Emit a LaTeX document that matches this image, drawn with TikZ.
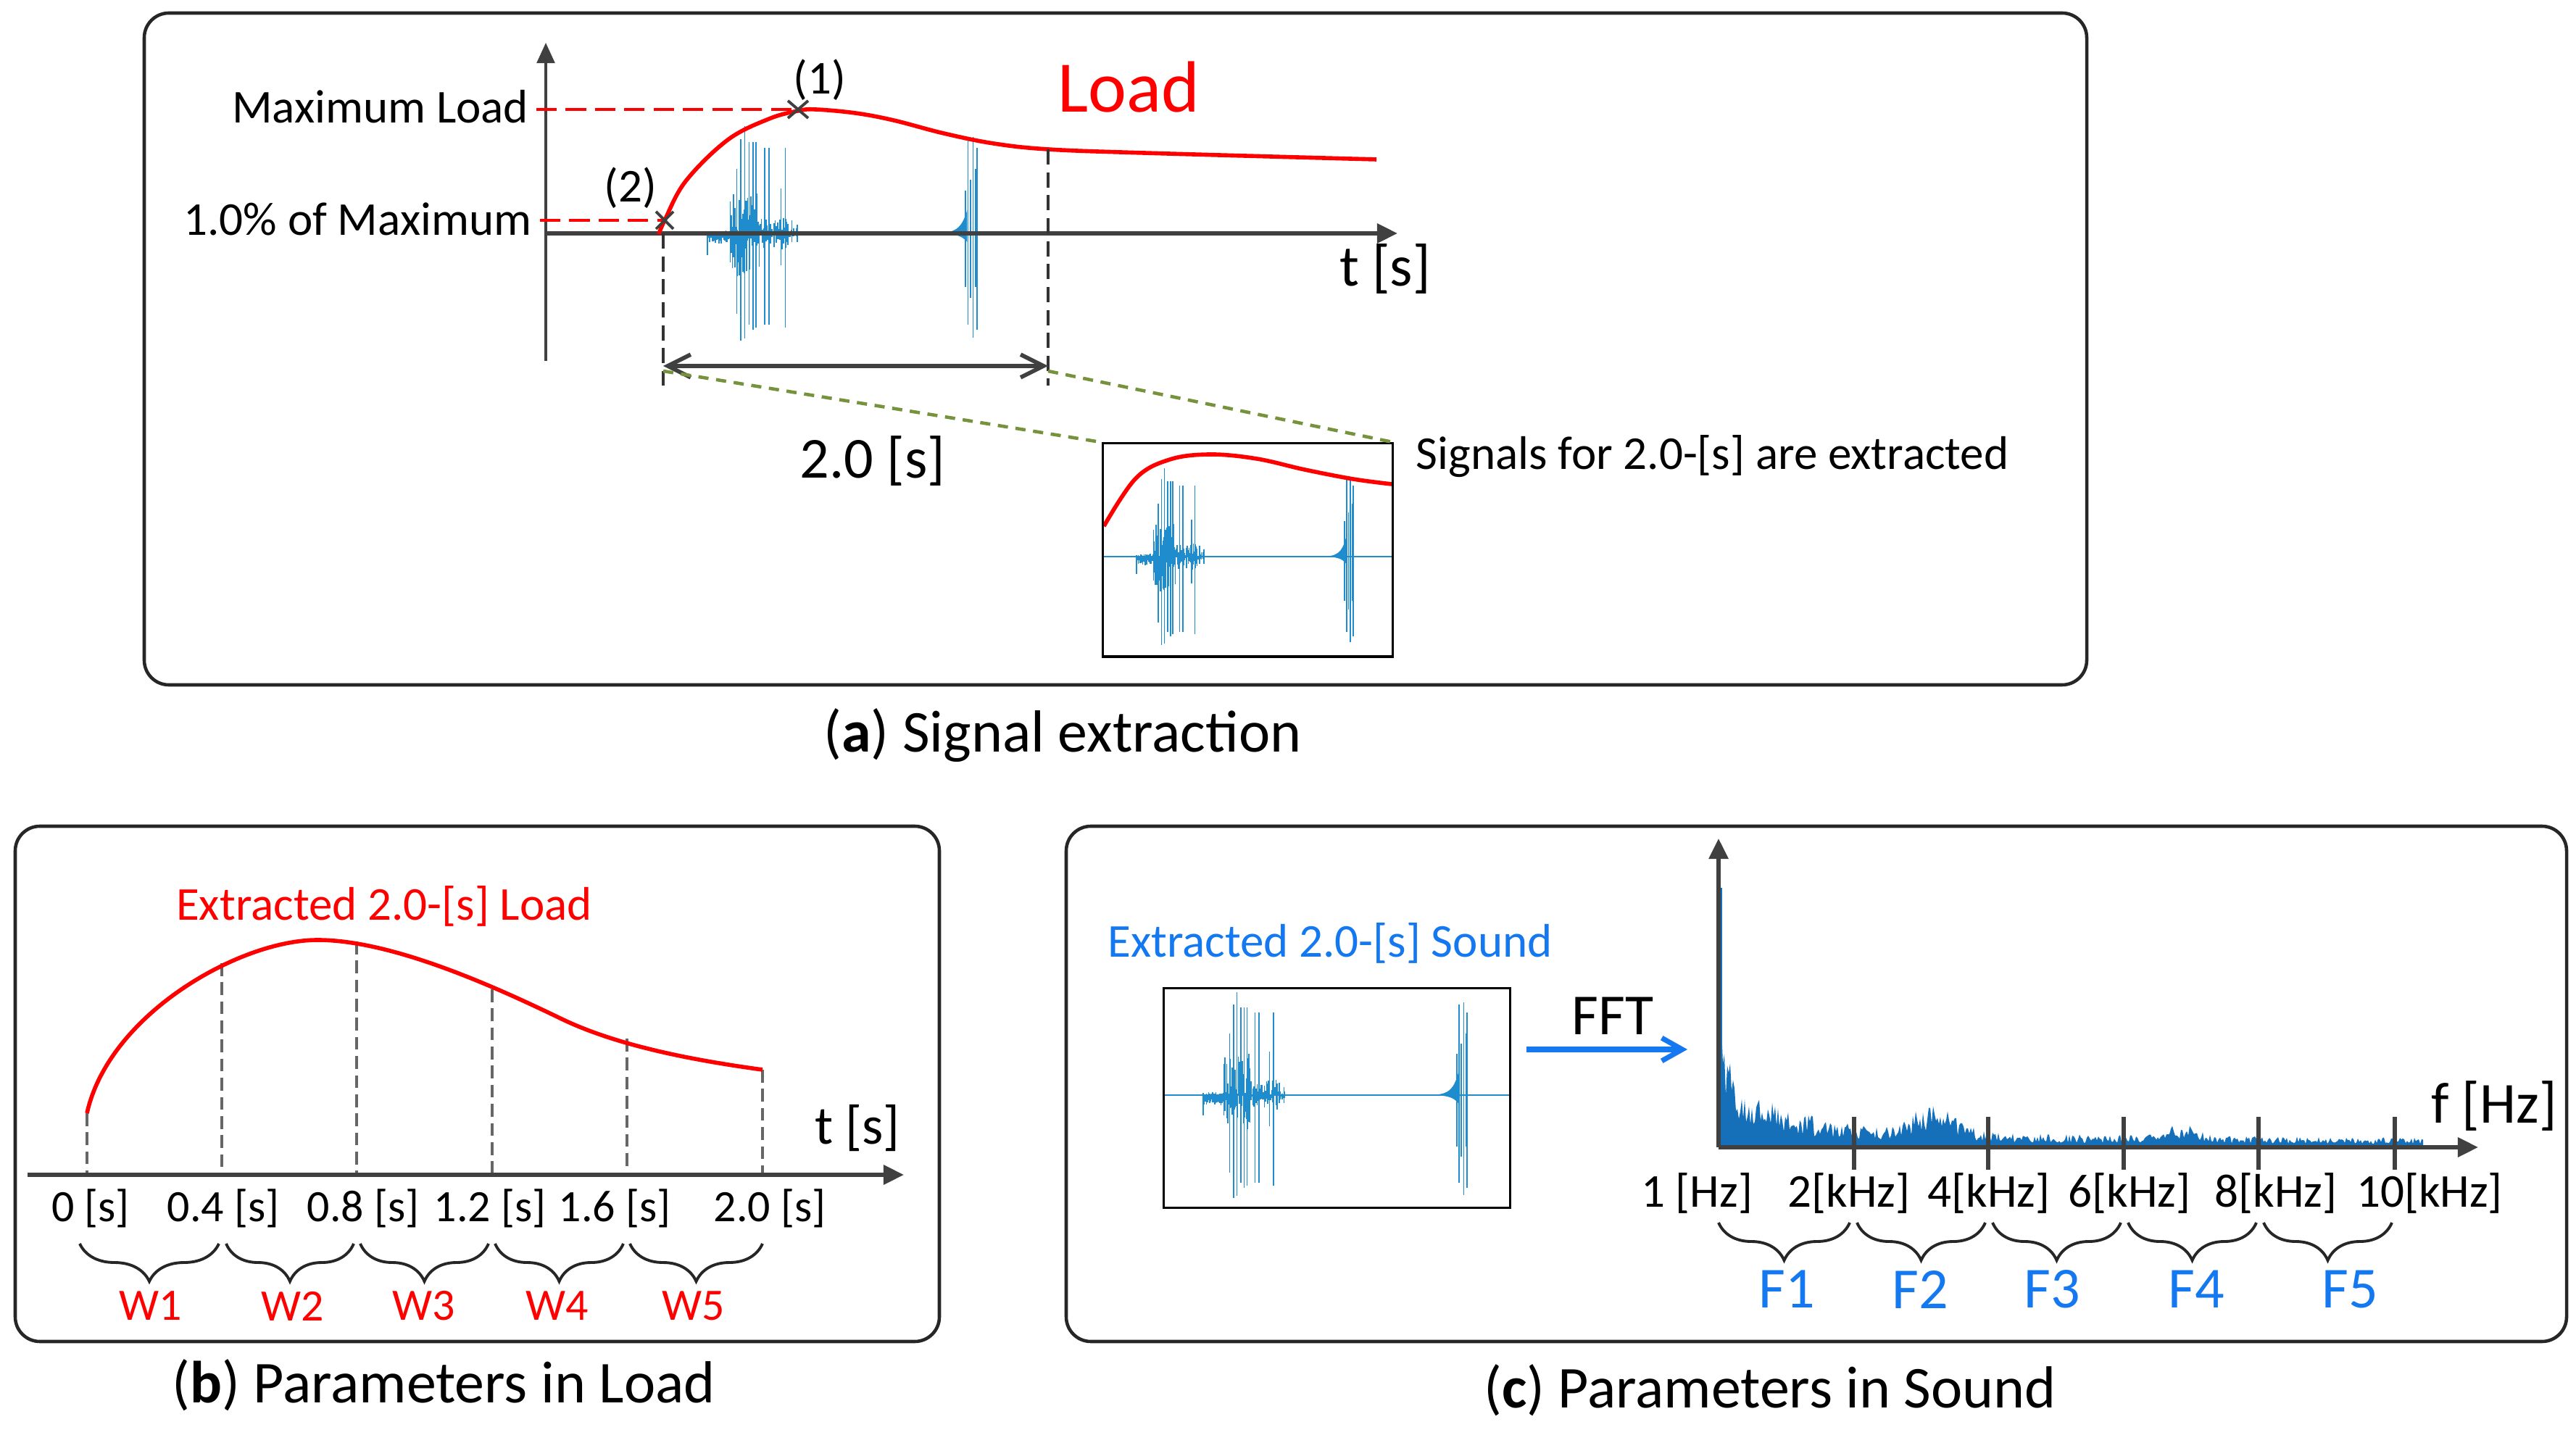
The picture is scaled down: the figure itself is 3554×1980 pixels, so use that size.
\documentclass[tikz,border=0pt]{standalone}
\usepackage{fontspec}
\setmainfont{Carlito}
\usetikzlibrary{arrows.meta,decorations.pathreplacing}
\definecolor{axisgray}{RGB}{64,64,64}
\definecolor{sigblue}{RGB}{30,140,205}
\definecolor{specblue}{RGB}{22,112,185}
\definecolor{txtblue}{RGB}{20,120,240}
\definecolor{olivegreen}{RGB}{118,146,60}
% #1 = seed, #2 = shift of the second event
\newcommand{\sigwave}[2]{%
  \pgfmathsetseed{#1}%
  % low noise before the burst
  \foreach \k in {0,...,20}{%
    \pgfmathsetmacro\sT{0.115+0.003*\k}%
    \pgfmathsetmacro\sU{0.03*rnd}%
    \pgfmathsetmacro\sD{0.04+0.06*rnd}%
    \draw[sigline] (\sT,\sU) -- (\sT,-\sD);
  }
  % burst noise
  \foreach \k in {0,...,58}{%
    \pgfmathsetmacro\sT{0.174+0.003*\k}%
    \pgfmathsetmacro\sE{(\sT<0.25)*0.4+(\sT>=0.25)*(\sT<0.33)*0.15+(\sT>=0.33)*0.05}%
    \pgfmathsetmacro\sU{\sE*rnd}%
    \pgfmathsetmacro\sD{\sE*rnd}%
    \draw[sigline] (\sT,\sU) -- (\sT,-\sD);
  }
  % large spikes of the first event
  \foreach \sT/\sU/\sD in {0.115/0.02/0.2, 0.174/0.3/0.2, 0.191/0.6/0.75, 0.202/0.88/1.0,
      0.212/1.0/0.98, 0.223/0.85/0.85, 0.233/0.85/0.9, 0.241/0.85/0.88,
      0.264/0.8/0.85, 0.275/0.8/0.85, 0.306/0.42/0.3, 0.317/0.8/0.88,
      0.334/0.12/0.08, 0.348/0.08/0.08}{%
    \draw[sigline] (\sT,\sU) -- (\sT,-\sD);
  }
  % second event
  \foreach \sTT/\sU/\sD in {0.845/0.4/0.5, 0.852/0.88/0.85, 0.858/0.5/0.6, 0.865/0.9/0.97, 0.872/0.6/0.5, 0.875/0.8/0.9}{%
    \pgfmathsetmacro\sT{\sTT+#2}%
    \draw[sigline] (\sT,\sU) -- (\sT,-\sD);
  }
  % rise before second event
  \fill[sigblue] (0.76+#2,0) .. controls (0.82+#2,0) and (0.835+#2,0.04) .. (0.85+#2,0.22)
     -- (0.85+#2,-0.08) .. controls (0.835+#2,-0.02) and (0.82+#2,0) .. (0.76+#2,0) -- cycle;
}
\begin{document}
\begin{tikzpicture}[x=0.01cm,y=-0.01cm,
  panel/.style={draw=black!85, line width=1.3pt, rounded corners=0.34cm},
  t65/.style={font=\fontsize{18.5}{22}\selectfont, inner sep=0pt},
  t62/.style={font=\fontsize{17.6}{21}\selectfont, inner sep=0pt},
  t80/.style={font=\fontsize{22.8}{27}\selectfont, inner sep=0pt},
  t75/.style={font=\fontsize{21.3}{25}\selectfont, inner sep=0pt},
  capt/.style={font=\fontsize{23.3}{28}\selectfont, inner sep=0pt},
  axisline/.style={draw=axisgray, line width=1.6pt, -{Triangle[length=8pt,width=7.5pt]}},
  yaxisline/.style={draw=axisgray, line width=1.1pt, -{Triangle[length=8pt,width=7pt]}},
  sigline/.style={sigblue, line width=0.45pt},
  redcurve/.style={red, line width=1.6pt},
  reddash/.style={red, line width=1.4pt, dash pattern=on 8pt off 3.5pt},
  vdash/.style={black!80, line width=0.9pt, dash pattern=on 6pt off 3pt},
  gdash/.style={black!60, line width=0.9pt, dash pattern=on 5pt off 2.5pt},
  olivedash/.style={olivegreen, line width=1.3pt, dash pattern=on 4pt off 3pt},
  dblarrow/.style={axisgray, line width=1.6pt, {Straight Barb[length=9pt,width=9pt]}-{Straight Barb[length=9pt,width=9pt]}},
  fftarrow/.style={txtblue, line width=2pt, -{Straight Barb[length=8pt,width=9pt]}},
  bracedown/.style={decorate, decoration={brace, mirror, amplitude=0.52cm}, line width=1.1pt, black!85},
  cross/.style={axisgray, line width=1.1pt},
  inset/.style={draw=black, line width=0.9pt, inner sep=0pt}
]
\useasboundingbox (0,0) rectangle (3554,1980);
\fill[white] (0,0) rectangle (3554,1980);

% ================= Panel (a) =================
\draw[panel] (199,18) rectangle (2879,945);

% signal in main plot
\begin{scope}[shift={(915,322)}, xscale=531, yscale=-148]
  \sigwave{5}{-0.06}
\end{scope}

% axes
\coordinate (aO) at (753,322);
\coordinate (aYtop) at (753,59);
\coordinate (aYbot) at (753,498);
\coordinate (aXend) at (1928,322);
\draw[yaxisline] (aYbot) -- (aYtop);
\draw[axisline] (aO) -- (aXend);

% load curve
\draw[redcurve] plot[smooth, tension=0.6] coordinates {(909,323) (917,304) (946,250) (1004,193) (1061,164) (1101,153) (1125,151) (1180,156) (1233,166) (1302,184) (1371,198) (1446,206) (1578,211) (1899,220)};

% labels on the y axis
\node[t65, anchor=base east] (lmax) at (730,170) {Maximum Load};
\node[t65, anchor=base east] (lpct) at (734,325) {1.0\% of Maximum};
\coordinate (m1) at (1101,151);
\coordinate (m2) at (917,304);
\draw[reddash] (740,151) -- (m1);
\draw[reddash] (745,304) -- (m2);
\draw[cross] ([shift={(-14,-12)}]m1) -- ([shift={(14,12)}]m1) ([shift={(-14,12)}]m1) -- ([shift={(14,-12)}]m1);
\draw[cross] ([shift={(-12,-12)}]m2) -- ([shift={(12,12)}]m2) ([shift={(-12,12)}]m2) -- ([shift={(12,-12)}]m2);
\node[t65] (p1) at (1131,110) {(1)};
\node[t65] (p2) at (870,259) {(2)};
\node[font=\fontsize{28.5}{34}\selectfont, text=red, inner sep=0pt, anchor=base] (loadlbl) at (1557,155) {Load};
\node[t80] (ts) at (1911,371) {t [s]};

% window markers
\coordinate (wL) at (915,505);
\coordinate (wR) at (1446,505);
\draw[vdash] (915,322) -- (915,532);
\draw[vdash] (1446,206) -- (1446,532);
\draw[dblarrow] (wL) -- (wR);
\node[t80] (dur) at (1204,636) {2.0 [s]};

% inset
\node[inset, minimum width=3.99cm, minimum height=2.94cm] (insA) at (1721.5,759) {};
\begin{scope}[shift={(1522,768)}, xscale=399, yscale=-122]
  \draw[sigline] (0,0) -- (1,0);
  \sigwave{5}{-0.01}
\end{scope}
\draw[redcurve] plot[smooth, tension=0.6] coordinates {(1523,726) (1567,660) (1614,634) (1670,627) (1734,633) (1800,648) (1867,661) (1920,668)};
\node[inset, minimum width=3.99cm, minimum height=2.94cm] at (1721.5,759) {};
\coordinate (gL) at (915,512);
\coordinate (gR) at (1446,512);
\draw[olivedash] (gL) -- (insA.north west);
\draw[olivedash] (gR) -- (insA.north east);
\node[t65, anchor=base west] (sigtxt) at (1953,648) {Signals for 2.0-[s] are extracted};

\node[capt] (capa) at (1466,1015) {(\textbf{a}) Signal extraction};

% ================= Panel (b) =================
\draw[panel] (21,1140) rectangle (1296,1851);
\coordinate (bO) at (38,1621);
\coordinate (bXend) at (1247,1621);
\draw[gdash] (120,1536) -- (120,1621);
\draw[gdash] (306,1329) -- (306,1621);
\draw[gdash] (492,1299) -- (492,1621);
\draw[gdash] (679,1365) -- (679,1621);
\draw[gdash] (865,1433) -- (865,1621);
\draw[gdash] (1052,1476) -- (1052,1621);
\draw[axisline] (bO) -- (bXend);
\draw[redcurve] (120,1536) .. controls (150,1400) and (330,1297) .. (438,1297)
   .. controls (540,1297) and (680,1360) .. (775,1406)
   .. controls (850,1442) and (950,1462) .. (1052,1476);
\node[t65, text=red] (extl) at (530,1250) {Extracted 2.0-[s] Load};
\node[t75] (tsb) at (1183,1557) {t [s]};
\node[t62] (b0) at (125,1667) {0 [s]};
\node[t62] (b1) at (308,1667) {0.4 [s]};
\node[t62] (b2) at (501,1667) {0.8 [s]};
\node[t62] (b3) at (676,1667) {1.2 [s]};
\node[t62] (b4) at (848,1667) {1.6 [s]};
\node[t62] (b5) at (1062,1667) {2.0 [s]};
\draw[bracedown] (110,1716) -- (302,1716);
\draw[bracedown] (312,1716) -- (488,1716);
\draw[bracedown] (497,1716) -- (674,1716);
\draw[bracedown] (683,1716) -- (860,1716);
\draw[bracedown] (869,1716) -- (1052,1716);
\node[t62, text=red] (w1) at (208,1802) {W1};
\node[t62, text=red] (w2) at (404,1802) {W2};
\node[t62, text=red] (w3) at (585,1802) {W3};
\node[t62, text=red] (w4) at (769,1802) {W4};
\node[t62, text=red] (w5) at (957,1802) {W5};
\node[capt] (capb) at (612,1911) {(\textbf{b}) Parameters in Load};

% ================= Panel (c) =================
\draw[panel] (1471,1140) rectangle (3541,1851);
\node[t65, text=txtblue] (exts) at (1835,1301) {Extracted 2.0-[s] Sound};
\node[inset, minimum width=4.78cm, minimum height=3.02cm] (insC) at (1844.5,1515) {};
\begin{scope}[shift={(1605,1511)}, xscale=479, yscale=-142]
  \draw[sigline] (0,0) -- (1,0);
  \sigwave{9}{0}
\end{scope}
\node[inset, minimum width=4.78cm, minimum height=3.02cm] at (1844.5,1515) {};
\node[t80] (fft) at (2225,1402) {FFT};
\coordinate (fS) at (2106,1448);
\coordinate (fE) at (2328,1448);
\draw[fftarrow] (fS) -- (fE);

% spectrum
\pgfmathsetseed{11}
\fill[specblue] (2371,1583) -- plot[domain=0:972, samples=487, variable=\u] ({2371+\u},{1583-(22-9*\u/972+200*exp(-\u/6)+105*exp(-\u/85)+45*exp(-((\u-298)/40)*((\u-298)/40))+18*exp(-((\u-639)/28)*((\u-639)/28)))*(0.35+0.65*rnd)}) -- (3343,1583) -- cycle;
\draw[specblue, line width=1pt] (2374,1583) -- (2374,1225);

\coordinate (cO) at (2371,1583);
\coordinate (cYtop) at (2371,1157);
\coordinate (cXend) at (3419,1583);
\draw[axisline, line width=1.5pt] (cO) -- (cYtop);
\draw[axisline, line width=1.5pt] (cO) -- (cXend);
\foreach \xx in {2558,2743,2930,3116,3304}{
  \draw[axisgray, line width=1.5pt] (\xx,1541) -- (\xx,1614);
}
\node[t80] (fhz) at (3441,1526) {f [Hz]};
\node[t65] (c0) at (2341,1646) {1 [Hz]};
\node[t65] (c1) at (2551,1646) {2[kHz]};
\node[t65] (c2) at (2744,1646) {4[kHz]};
\node[t65] (c3) at (2938,1646) {6[kHz]};
\node[t65] (c4) at (3140,1646) {8[kHz]};
\node[t65] (c5) at (3352,1646) {10[kHz]};
\draw[bracedown] (2371,1687) -- (2552,1687);
\draw[bracedown] (2562,1687) -- (2739,1687);
\draw[bracedown] (2749,1687) -- (2926,1687);
\draw[bracedown] (2936,1687) -- (3113,1687);
\draw[bracedown] (3123,1687) -- (3300,1687);
\node[t80, text=txtblue] (f1) at (2465,1779) {F1};
\node[t80, text=txtblue] (f2) at (2649,1779) {F2};
\node[t80, text=txtblue] (f3) at (2831,1779) {F3};
\node[t80, text=txtblue] (f4) at (3030,1779) {F4};
\node[t80, text=txtblue] (f5) at (3242,1779) {F5};
\node[capt] (capc) at (2442,1918) {(\textbf{c}) Parameters in Sound};
\end{tikzpicture}
\end{document}
